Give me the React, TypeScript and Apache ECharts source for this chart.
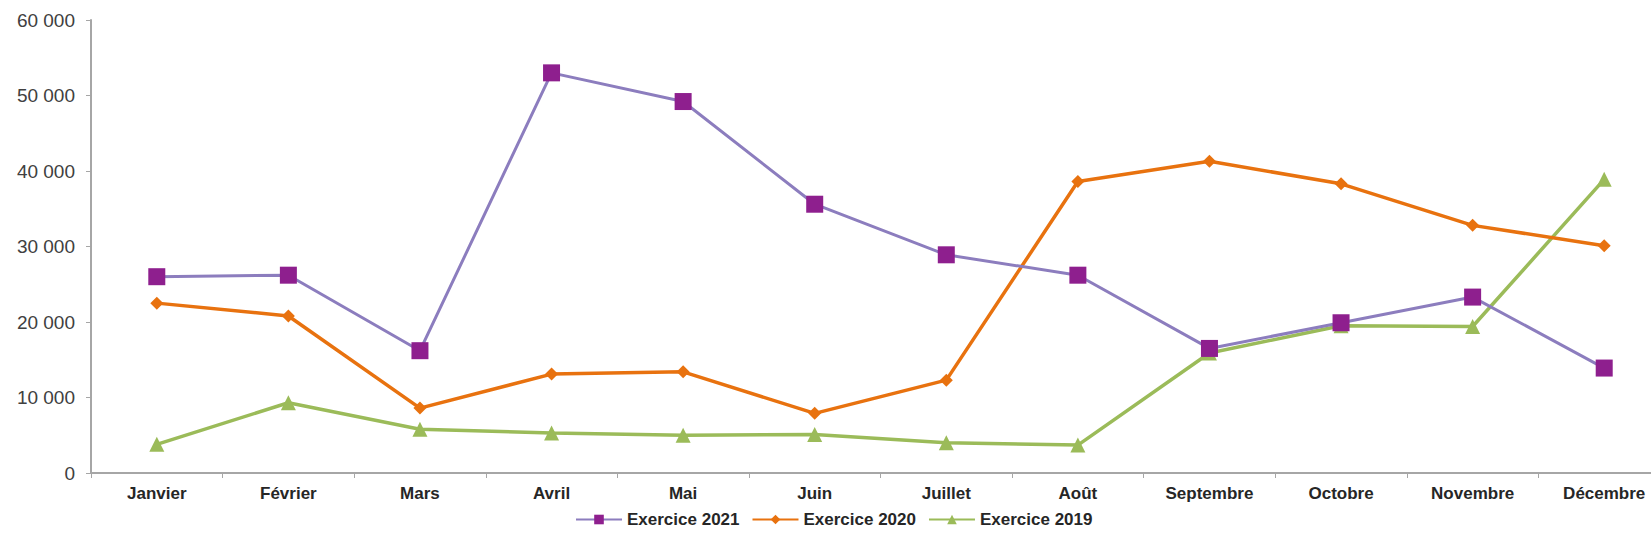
import React, { useEffect, useRef } from "react";
import * as echarts from "echarts";

const months = ["Janvier", "Février", "Mars", "Avril", "Mai", "Juin", "Juillet", "Août", "Septembre", "Octobre", "Novembre", "Décembre"];
const exercice2021 = [26000, 26200, 16200, 53000, 49200, 35600, 28900, 26200, 16500, 19900, 23300, 13900];
const exercice2020 = [22500, 20800, 8600, 13100, 13400, 7900, 12300, 38600, 41300, 38300, 32800, 30100];
const exercice2019 = [3800, 9300, 5800, 5300, 5000, 5100, 4000, 3700, 15900, 19500, 19400, 38900];
const yTicks = { min: 0, max: 60000, interval: 10000 };

const fmt = (v: number) => String(v).replace(/\B(?=(\d{3})+(?!\d))/g, " ");

export default function App() {
  const ref = useRef<HTMLDivElement>(null);
  useEffect(() => {
    if (!ref.current) return;
    const chart = echarts.init(ref.current, undefined, { renderer: "svg" });
    const axisGrey = "#A6A6A6";
    const font = "Liberation Sans, Arial, sans-serif";
    chart.setOption({
      animation: false,
      backgroundColor: "#FFFFFF",
      grid: { left: 91, top: 20, bottom: 83, width: 1579, containLabel: false, outerBoundsMode: "none" },
      legend: {
        top: 506,
        left: 570,
        itemWidth: 46,
        itemHeight: 12,
        itemGap: 12,
        textStyle: { fontFamily: font, fontWeight: "bold", fontSize: 17, color: "#262626" },
        data: ["Exercice 2021", "Exercice 2020", "Exercice 2019"],
      },
      xAxis: {
        type: "category",
        data: months,
        boundaryGap: true,
        axisLine: { lineStyle: { color: axisGrey, width: 2 } },
        axisTick: { show: true, length: 5, lineStyle: { color: axisGrey } },
        axisLabel: { fontFamily: font, fontWeight: "bold", fontSize: 17, color: "#262626", margin: 12, interval: 0 },
        splitLine: { show: false },
      },
      yAxis: {
        type: "value",
        min: yTicks.min,
        max: yTicks.max,
        interval: yTicks.interval,
        axisLine: { show: true, lineStyle: { color: axisGrey, width: 2 } },
        axisTick: { show: true, length: 5, lineStyle: { color: axisGrey } },
        axisLabel: { fontFamily: font, fontSize: 19, color: "#404040", margin: 16, formatter: (v: number) => fmt(v) },
        splitLine: { show: false },
      },
      series: [
        {
          name: "Exercice 2021",
          type: "line",
          data: exercice2021,
          symbol: "rect",
          symbolSize: 17,
          lineStyle: { color: "#8C7DBE", width: 3 },
          itemStyle: { color: "#8E1F8E" },
          z: 3,
        },
        {
          name: "Exercice 2020",
          type: "line",
          data: exercice2020,
          symbol: "diamond",
          symbolSize: 13,
          lineStyle: { color: "#E8720F", width: 3.5 },
          itemStyle: { color: "#E8720F" },
          z: 2,
        },
        {
          name: "Exercice 2019",
          type: "line",
          data: exercice2019,
          symbol: "triangle",
          symbolSize: 15,
          lineStyle: { color: "#9BBB59", width: 3.5 },
          itemStyle: { color: "#9BBB59" },
          z: 1,
        },
      ],
    });
    return () => chart.dispose();
  }, []);
  return <div ref={ref} style={{ position: "fixed", left: 0, top: 0, width: 1651, height: 556 }} />;
}
